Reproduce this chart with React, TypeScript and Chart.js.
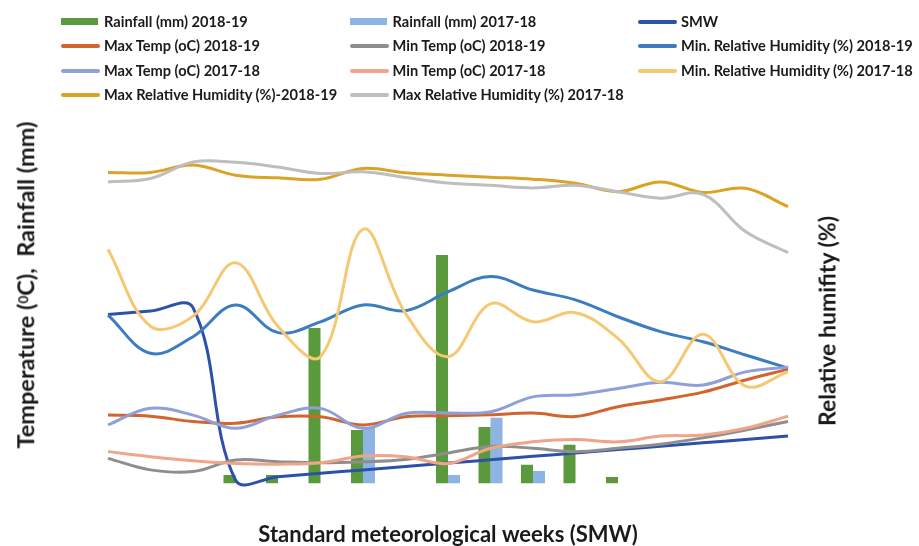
import React, { useEffect, useRef } from "react";
import { Chart, registerables } from "chart.js";

Chart.register(...registerables);

// Standard meteorological weeks (categories)
const weeks = ["50", "51", "52", "1", "2", "3", "4", "5", "6", "7", "8", "9", "10", "11", "12", "13", "14"];
const smw = [50, 51, 52, 1, 2, 3, 4, 5, 6, 7, 8, 9, 10, 11, 12, 13, 14];

const rain1819 = [0, 0, 0, 2.5, 2.5, 46, 15.8, 0, 67.6, 16.7, 5.5, 11.4, 1.9, 0, 0, 0, 0];
const rain1718 = [0, 0, 0, 0, 0, 0, 16.4, 0, 2.5, 19.4, 3.7, 0, 0, 0, 0, 0, 0];

const maxT1819 = [20.2, 19.9, 18.3, 17.8, 19.7, 19.7, 17.3, 19.7, 20.0, 20.3, 20.8, 19.8, 22.7, 24.7, 27.0, 30.6, 33.8];
const minT1819 = [7.4, 4.0, 3.5, 6.9, 6.4, 6.1, 6.4, 7.1, 9.0, 10.9, 10.4, 9.4, 10.4, 11.6, 13.5, 15.8, 18.3];
const maxT1718 = [17.3, 22.2, 20.2, 16.3, 20.2, 22.2, 16.3, 20.7, 20.8, 21.2, 25.6, 26.2, 28.1, 29.9, 29.1, 33.0, 34.4];
const minT1718 = [9.4, 7.9, 6.7, 5.9, 5.7, 6.1, 8.1, 7.9, 5.9, 10.4, 12.3, 13.0, 12.3, 14.0, 14.3, 16.3, 19.9];

const minRH1819 = [49.8, 38.5, 43.4, 52.8, 44.6, 47.8, 52.8, 51.1, 56.7, 61.2, 57.2, 54.3, 49.3, 44.9, 41.9, 38.0, 34.1];
const minRH1718 = [69.3, 46.5, 49.5, 65.3, 46.4, 37.5, 75.2, 50.3, 37.5, 53.1, 47.8, 50.5, 42.9, 30.1, 44.1, 28.8, 33.0];
const maxRH1819 = [92.0, 92.0, 94.2, 91.2, 90.4, 90.0, 93.2, 91.9, 91.2, 90.6, 90.0, 88.8, 86.3, 89.2, 86.1, 87.3, 81.9];
const maxRH1718 = [89.2, 90.2, 95.1, 95.0, 93.6, 91.7, 92.2, 90.5, 88.9, 88.2, 87.4, 88.2, 86.3, 84.4, 85.5, 74.5, 68.3];

const C = {
  rain1819: "#5A9A3C",
  rain1718: "#8DB4E2",
  smw: "#2C51A8",
  maxT1819: "#D2652D",
  minT1819: "#8E8E8E",
  minRH1819: "#3B7DC0",
  maxT1718: "#8F9FD9",
  minT1718: "#F0A48A",
  minRH1718: "#F5C874",
  maxRH1819: "#D9A425",
  maxRH1718: "#BEBEBE",
};

type LegendItem = { label: string; color: string; bar?: boolean };
const legendItems: LegendItem[] = [
  { label: "Rainfall (mm) 2018-19", color: C.rain1819, bar: true },
  { label: "Rainfall (mm) 2017-18", color: C.rain1718, bar: true },
  { label: "SMW", color: C.smw },
  { label: "Max Temp (oC) 2018-19", color: C.maxT1819 },
  { label: "Min Temp (oC) 2018-19", color: C.minT1819 },
  { label: "Min. Relative Humidity (%) 2018-19", color: C.minRH1819 },
  { label: "Max Temp (oC) 2017-18", color: C.maxT1718 },
  { label: "Min Temp (oC) 2017-18", color: C.minT1718 },
  { label: "Min. Relative Humidity (%) 2017-18", color: C.minRH1718 },
  { label: "Max Relative Humidity (%)-2018-19", color: C.maxRH1819 },
  { label: "Max Relative Humidity (%) 2017-18", color: C.maxRH1718 },
];

const FONT = "Lato, 'DejaVu Sans', sans-serif";
const colX = [61, 350, 638];
const colText = [104, 392.5, 681];
const rowY = [21.5, 46, 70.5, 95];

export default function App() {
  const ref = useRef<HTMLCanvasElement | null>(null);

  useEffect(() => {
    if (!ref.current) return;
    const line = (label: string, data: number[], color: string, axis: string, order: number) => ({
      type: "line" as const,
      label,
      data,
      borderColor: color,
      backgroundColor: color,
      borderWidth: 3,
      pointRadius: 0,
      tension: 0.38,
      fill: false,
      yAxisID: axis,
      order,
      clip: false as any,
    });
    const chart = new Chart(ref.current, {
      type: "bar",
      data: {
        labels: weeks,
        datasets: [
          { type: "bar", label: "Rainfall (mm) 2018-19", data: rain1819, backgroundColor: C.rain1819, yAxisID: "y", order: 100, categoryPercentage: 0.565, barPercentage: 1 } as any,
          { type: "bar", label: "Rainfall (mm) 2017-18", data: rain1718, backgroundColor: C.rain1718, yAxisID: "y", order: 100, categoryPercentage: 0.565, barPercentage: 1 } as any,
          line("SMW", smw, C.smw, "y", 48),
          line("Max Temp (oC) 2018-19", maxT1819, C.maxT1819, "y", 47),
          line("Min Temp (oC) 2018-19", minT1819, C.minT1819, "y", 46),
          line("Min. Relative Humidity (%) 2018-19", minRH1819, C.minRH1819, "y1", 45),
          line("Max Temp (oC) 2017-18", maxT1718, C.maxT1718, "y", 44),
          line("Min Temp (oC) 2017-18", minT1718, C.minT1718, "y", 43),
          line("Min. Relative Humidity (%) 2017-18", minRH1718, C.minRH1718, "y1", 42),
          line("Max Relative Humidity (%)-2018-19", maxRH1819, C.maxRH1819, "y1", 41),
          line("Max Relative Humidity (%) 2017-18", maxRH1718, C.maxRH1718, "y1", 40),
        ],
      },
      options: {
        responsive: false,
        animation: false,
        layout: { padding: { left: 86.75, right: 109.75, top: 145.4, bottom: 0 } },
        elements: { line: { capBezierPoints: false } },
        plugins: { legend: { display: false }, tooltip: { enabled: false } },
        scales: {
          x: {
            display: true,
            offset: true,
            grid: { display: false, drawTicks: false },
            border: { display: false },
            ticks: { display: false },
            title: {
              display: true,
              text: "Standard meteorological weeks (SMW)",
              color: "#1a1a1a",
              font: { family: FONT, size: 22, weight: "bold", lineHeight: 1 },
              padding: { top: 40.6, bottom: 0 },
            },
          },
          y: { display: false, min: 0, max: 100 },
          y1: { display: false, position: "right", min: 0, max: 100 },
        },
      } as any,
    });
    return () => chart.destroy();
  }, []);

  const vTitle = (cx: number, cy: number, size: number): React.CSSProperties => ({
    position: "absolute",
    left: cx,
    top: cy,
    transform: "translate(-50%, -50%) rotate(-90deg)",
    fontFamily: FONT,
    fontWeight: 700,
    fontSize: size,
    color: "#1a1a1a",
    whiteSpace: "pre",
    lineHeight: `${size + 2}px`,
  });

  return (
    <div style={{ position: "absolute", left: 0, top: 0, width: 919, height: 546, overflow: "hidden", background: "#fff" }}>
      <canvas ref={ref} width={919} height={546} style={{ position: "absolute", left: 0, top: 0 }} />
      {legendItems.map((it, i) => {
        const col = i % 3;
        const row = Math.floor(i / 3);
        const cy = rowY[row];
        const h = it.bar ? 7 : 4;
        return (
          <React.Fragment key={i}>
            <div
              style={{
                position: "absolute",
                left: colX[col],
                top: cy - h / 2,
                width: it.bar ? 37 : 39,
                height: h,
                background: it.color,
                borderRadius: it.bar ? 0 : 2,
              }}
            />
            <div
              style={{
                position: "absolute",
                left: colText[col],
                top: cy - 10,
                height: 20,
                lineHeight: "20px",
                fontFamily: FONT,
                fontWeight: 700,
                fontSize: 14.6,
                color: "#1a1a1a",
                whiteSpace: "nowrap",
              }}
            >
              {it.label}
            </div>
          </React.Fragment>
        );
      })}
      <div style={vTitle(25, 285, 23.5)}>
        Temperature (<sup style={{ fontSize: 13.5, verticalAlign: "6px" }}>0</sup>C),  Rainfall (mm)
      </div>
      <div style={vTitle(827, 321, 23)}>Relative humifity (%)</div>
    </div>
  );
}
